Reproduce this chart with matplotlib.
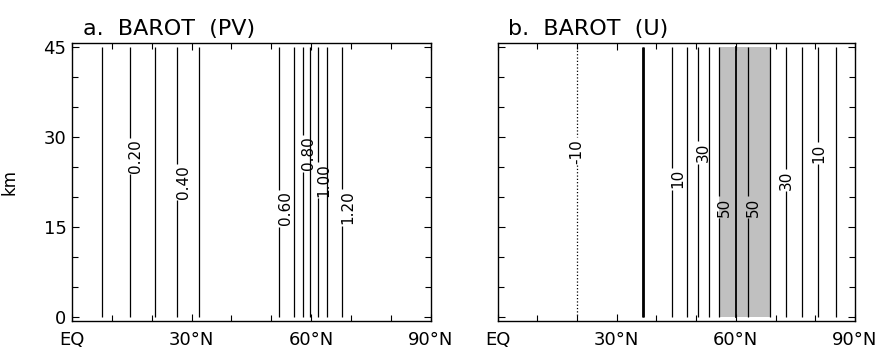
import numpy as np
import matplotlib
matplotlib.use("Agg")
import matplotlib.pyplot as plt
from matplotlib.ticker import MultipleLocator

# ---- data ----
# Panel a: PV profile (constant with height); latitudes where each contour crosses
pv_lat = [0.0, 7.45, 14.55, 20.8, 26.4, 31.9, 52.0, 55.8, 57.9, 59.7, 61.6, 63.9, 67.8, 90.0]
pv_val = [0.0, 0.10, 0.20, 0.30, 0.40, 0.50, 0.60, 0.70, 0.80, 0.90, 1.00, 1.10, 1.20, 1.25]
pv_levels_plain = [0.1, 0.3, 0.5, 0.7, 0.9, 1.1]
pv_levels_lab = [0.2, 0.4, 0.6, 0.8, 1.0, 1.2]
pv_label_pos = [(14.55, 26.8), (26.4, 22.5), (52.0, 18.1), (57.9, 27.2), (61.6, 22.8), (67.8, 18.2)]

# Panel b: zonal wind profile (constant with height)
u_lat = [0.0, 20.0, 36.7, 44.0, 47.6, 50.5, 53.2, 55.7, 60.0, 63.1, 68.6, 72.6, 76.6, 80.8, 85.2, 90.0]
u_val = [-15, -10, 0, 10, 20, 30, 40, 50, 58, 50, 40, 30, 20, 10, 0, -5]
u_levels_plain = [0, 20, 40]
u_levels_lab = [-10, 10, 30, 50]
u_label_pos = [(20.0, 27.6), (44.0, 23.0), (50.5, 27.4), (55.7, 18.3), (63.1, 18.3), (72.6, 22.8), (80.8, 27.3)]
shade_lat = [55.8, 68.6]
jet_lat = 60.0

z_top = 45.0
xticks = [0, 30, 60, 90]
xticklabels = ["EQ", "30°N", "60°N", "90°N"]
yticks = [0, 15, 30, 45]

# ---- figure ----
fig = plt.figure(figsize=(8.76, 3.52), dpi=100)
axa = fig.add_axes([0.0822, 0.088, 0.4095, 0.791])
axb = fig.add_axes([0.568, 0.088, 0.408, 0.791])

lat_grid = np.linspace(0, 90, 1801)
z_grid = np.linspace(0, z_top, 91)


def field(lat_pts, vals):
    prof = np.interp(lat_grid, lat_pts, vals)
    return np.tile(prof, (len(z_grid), 1))


def style(ax, title):
    ax.set_xlim(0, 90)
    ax.set_ylim(-0.7, 45.7)
    ax.set_xticks(xticks)
    ax.set_xticklabels(xticklabels)
    ax.set_yticks(yticks)
    ax.xaxis.set_minor_locator(MultipleLocator(10))
    ax.yaxis.set_minor_locator(MultipleLocator(5))
    ax.tick_params(which="both", direction="in", top=True, right=True, width=0.8)
    ax.tick_params(which="major", length=5)
    ax.tick_params(which="minor", length=4)
    ax.tick_params(axis="x", labelsize=13, pad=7)
    ax.tick_params(axis="y", labelsize=13, pad=4)
    for s in ax.spines.values():
        s.set_linewidth(1.0)
    ax.text(0.03, 1.027, title, transform=ax.transAxes, fontsize=16,
            ha="left", va="baseline")


# Panel a
Zpv = field(pv_lat, pv_val)
axa.contour(lat_grid, z_grid, Zpv, levels=pv_levels_plain, colors="k", linewidths=0.9)
cs = axa.contour(lat_grid, z_grid, Zpv, levels=pv_levels_lab, colors="k", linewidths=0.9)
labs = axa.clabel(cs, inline=True, fmt="%.2f", fontsize=11,
                  manual=pv_label_pos, inline_spacing=2)
for t in labs:
    x, y = t.get_position()
    t.set_position((x + 1.5, y))
    t.set_rotation(90)
style(axa, "a.  BAROT  (PV)")
axa.set_yticklabels([str(v) for v in yticks])
axa.set_ylabel("km", fontsize=12)
axa.yaxis.set_label_coords(-0.15, 0.5)

# Panel b
axb.fill_between(shade_lat, 0, z_top, color="#c0c0c0", linewidth=0, zorder=0)
Zu = field(u_lat, u_val)
axb.contour(lat_grid, z_grid, Zu, levels=u_levels_plain, colors="k", linewidths=0.9)
left = lat_grid <= jet_lat
axb.contour(lat_grid[left], z_grid, Zu[:, left], levels=[0], colors="k", linewidths=2.0)
axb.plot([jet_lat, jet_lat], [0, z_top], color="k", lw=1.3)
csu = axb.contour(lat_grid, z_grid, Zu, levels=u_levels_lab, colors="k", linewidths=0.9,
                  negative_linestyles="dotted")
labsu = axb.clabel(csu, inline=True, fmt="%d", fontsize=11,
                   manual=u_label_pos, inline_spacing=2)
for t in labsu:
    x, y = t.get_position()
    t.set_rotation(90)
    if 30 < x < 65:
        t.set_position((x + 1.3, y))
style(axb, "b.  BAROT  (U)")
axb.set_yticklabels([])

fig.savefig("out.png", dpi=100)
